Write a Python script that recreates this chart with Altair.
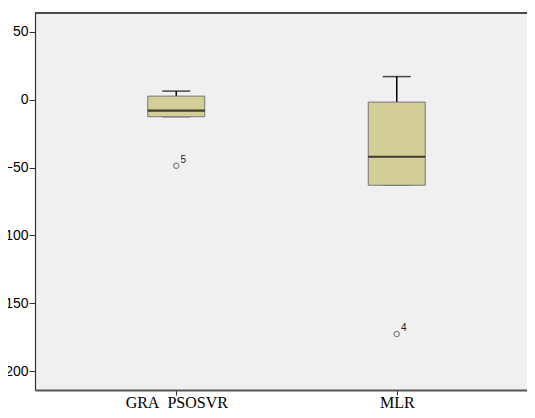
import altair as alt
import pandas as pd

groups = ["GRA\u00a0 PSOSVR", "MLR"]
positions = [1, 2]
q1 = [-12.5, -63.0]
median = [-8.0, -42.0]
q3 = [2.7, -1.7]
whisker_low = [-12.5, -63.0]
whisker_high = [6.4, 17.1]

outlier_pos = [1, 2]
outlier_val = [-48.6, -172.7]
outlier_label = ["5", "4"]

y_ticks = [-200, -150, -100, -50, 0, 50]

W, H = 492, 377

box_df = pd.DataFrame({
    "pos": positions, "group": groups, "q1": q1, "median": median,
    "q3": q3, "wlo": whisker_low, "whi": whisker_high,
})
out_df = pd.DataFrame({"pos": outlier_pos, "val": outlier_val, "lab": outlier_label})

label_expr = " : ".join(
    f"datum.value == {p} ? '{g}'" for p, g in zip(positions, groups)
) + " : ''"

xs = alt.Scale(domain=[0.382, 2.568], nice=False, zero=False)
ys = alt.Scale(domain=[-214, 64], nice=False, zero=False)

xaxis = alt.Axis(values=positions, labelExpr=label_expr, title=None, grid=False,
                 domain=True, domainColor="#555", domainWidth=2,
                 tickSize=5, tickColor="#333", labelFont="Liberation Serif",
                 labelFontSize=16, labelColor="black", labelPadding=12,
                 labelBaseline="alphabetic")
yaxis = alt.Axis(values=y_ticks, title=None, grid=False, domain=True, domainColor="#333",
                 domainWidth=1.2, tickSize=6,
                 tickColor="#333", labelFont="Liberation Sans", labelFontSize=14,
                 labelColor="black", labelPadding=1)

base = alt.Chart(box_df)
X = alt.X("pos:Q", scale=xs, axis=xaxis)

upper_whisker = base.mark_rule(color="black", strokeWidth=1.5).encode(
    x=X, y=alt.Y("q3:Q", scale=ys, axis=yaxis), y2="whi:Q")
lower_whisker = base.mark_rule(color="black", strokeWidth=1.5).encode(
    x=X, y=alt.Y("wlo:Q", scale=ys), y2="q1:Q")
low_cap = base.mark_tick(orient="horizontal", size=28, thickness=1.5, color="#444").encode(
    x=X, y=alt.Y("wlo:Q", scale=ys))
box = base.mark_bar(size=57, color="#D3CE97", stroke="#777", strokeWidth=1).encode(
    x=X, y=alt.Y("q1:Q", scale=ys), y2="q3:Q")
med = base.mark_tick(orient="horizontal", size=57, thickness=2.2, color="black").encode(
    x=X, y=alt.Y("median:Q", scale=ys))
high_cap = base.mark_tick(orient="horizontal", size=28, thickness=1.5, color="black").encode(
    x=X, y=alt.Y("whi:Q", scale=ys))

pts = alt.Chart(out_df).mark_point(shape="circle", filled=False, size=28, color="#555",
                                   strokeWidth=1.2).encode(
    x=alt.X("pos:Q", scale=xs), y=alt.Y("val:Q", scale=ys))
labs = alt.Chart(out_df).mark_text(dx=7, dy=-6, fontSize=10, font="Liberation Sans",
                                   color="#222", align="center").encode(
    x=alt.X("pos:Q", scale=xs), y=alt.Y("val:Q", scale=ys), text="lab:N")

top_border = alt.Chart(box_df).mark_rule(color="#111", strokeWidth=1.2).encode(
    x=alt.value(0), x2=alt.value(W), y=alt.value(0))

chart = alt.layer(upper_whisker, lower_whisker, low_cap, box, med, high_cap, pts, labs,
                  top_border).properties(
    width=W, height=H,
    autosize=alt.AutoSizeParams(type="none"),
    padding={"left": 27, "top": 5, "right": 0, "bottom": 18},
    background="white",
).configure_view(fill="#F0F0F0", stroke=None)

chart.save("out.html", embed_options={"renderer": "svg", "actions": False})
